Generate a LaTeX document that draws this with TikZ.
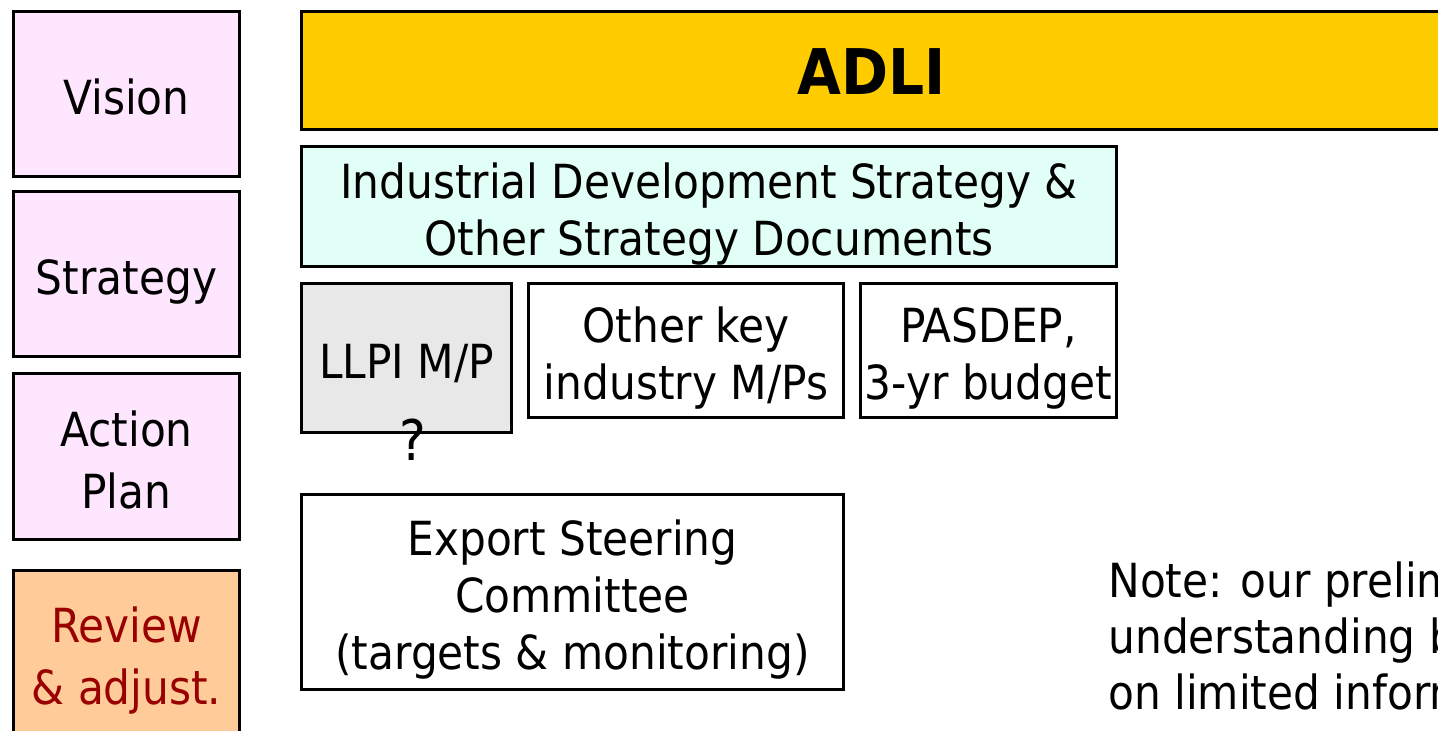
\documentclass[tikz,border=0pt]{standalone}
\usepackage{fontspec}
\setmainfont{DejaVu Sans Condensed}
\usepackage{xcolor}
\definecolor{stagepink}{HTML}{FFE6FF}
\definecolor{adliyellow}{HTML}{FFCC00}
\definecolor{stratcyan}{HTML}{E1FFF6}
\definecolor{plangray}{HTML}{E8E8E8}
\definecolor{reviewpeach}{HTML}{FFCC99}
\definecolor{reviewred}{HTML}{990000}
% fixed line heights, so that text sits in its box as on the slide
\newcommand\topstrut{\rule{0pt}{26pt}}
\newcommand\botstrut{\rule[-5.5pt]{0pt}{5.5pt}}

\begin{document}
\begin{tikzpicture}[
            x = 0.5pt, y = -0.5pt, % one unit per pixel of the slide
            box/.style = {draw=black, line width=1.5pt, inner sep=0pt, align=center,
                font=\fontsize{23.5}{28.5}\selectfont},
            oneline/.style = {text height=26pt, text depth=5.5pt},
            stage/.style = {box, fill=stagepink, minimum width=113pt, minimum height=82.5pt,
                font=\fontsize{23.5}{31}\selectfont}
        ]
\useasboundingbox (0,0) rectangle (1438,731);
\clip (0,0) rectangle (1438,731);

% left column
\node[stage, oneline] (vision) at (126.5,94) {Vision};
\node[stage, oneline] (strategy) at (126.5,274.5) {Strategy};
\node[stage] (action) at (126.5,456.5) {\topstrut Action\\Plan\botstrut};
\node[stage, fill=reviewpeach, text=reviewred] (review) at (126.5,653) {\topstrut Review\\\& adjust.\botstrut};

% right side
\node[box, fill=adliyellow, minimum width=570.5pt, minimum height=59pt, text height=31pt, text depth=6.5pt,
      font=\fontsize{31.5}{36}\selectfont\bfseries] (adli) at (872,70.5) {ADLI};
\node[box, fill=stratcyan, minimum width=407.5pt, minimum height=59.5pt] (ids) at (709,207)
      {\topstrut Industrial Development Strategy \&\\Other Strategy Documents\botstrut};
\node[box, oneline, fill=plangray, minimum width=105pt, minimum height=74.5pt] (llpi) at (406.5,358) {LLPI M/P};
\node[box, minimum width=157.5pt, minimum height=67pt] (other) at (686,350.5)
      {\topstrut Other key\\industry M/Ps\botstrut};
\node[box, minimum width=128pt, minimum height=67pt] (pasdep) at (988.5,350.5)
      {\topstrut PASDEP,\\3-yr budget\botstrut};
\node[font=\fontsize{28}{30}\selectfont, inner sep=0pt] (query) at (413,440) {?};
\node[box, minimum width=271pt, minimum height=97.5pt] (export) at (572.5,592)
      {\topstrut Export Steering\\Committee\\(targets \& monitoring)\botstrut};

% note
\node[anchor=west, align=left, inner sep=0pt, font=\fontsize{23.5}{28}\selectfont] (note) at (1108,636)
      {Note: our preliminary\\understanding based\\on limited information};
\end{tikzpicture}
\end{document}
